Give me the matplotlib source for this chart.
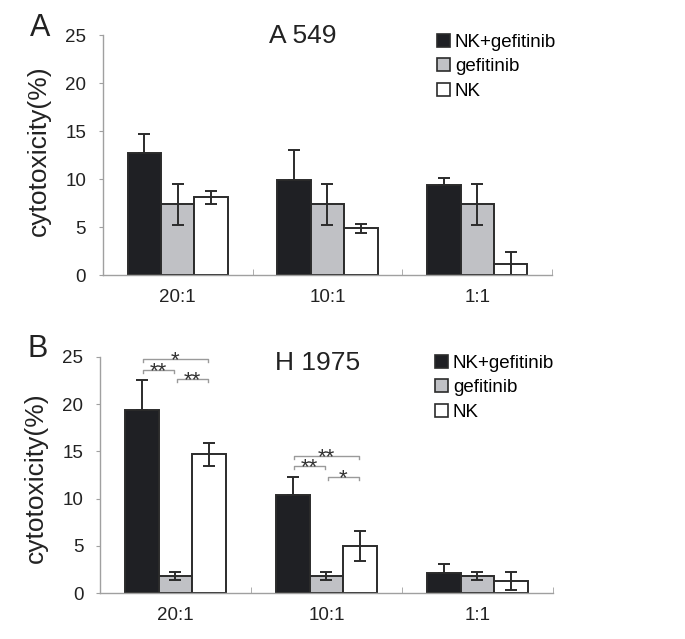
import numpy as np
import matplotlib
matplotlib.use('Agg')
import matplotlib.pyplot as plt
from matplotlib.patches import Patch

plt.rcParams['font.family'] = ['Liberation Sans', 'DejaVu Sans']

ratios = ["20:1", "10:1", "1:1"]
groups = ["NK+gefitinib", "gefitinib", "NK"]
colors = ["#1f2024", "#c0c1c5", "#ffffff"]

# A 549
a_means = [[12.7, 9.85, 9.35],
           [7.35, 7.35, 7.35],
           [8.1, 4.85, 1.2]]
a_err = [[2.0, 3.2, 0.75],
         [2.1, 2.1, 2.1],
         [0.65, 0.5, 1.15]]

# H 1975
b_means = [[19.4, 10.35, 2.15],
           [1.8, 1.8, 1.85],
           [14.7, 5.0, 1.3]]
b_err = [[3.1, 1.95, 0.9],
         [0.4, 0.4, 0.4],
         [1.2, 1.6, 0.95]]

# significance brackets: (category, bar from, bar to, height, label)
b_sig = [(0, 0, 2, 24.75, "*"),
         (0, 0, 1, 23.6, "**"),
         (0, 1, 2, 22.65, "**"),
         (1, 0, 2, 14.5, "**"),
         (1, 0, 1, 13.4, "**"),
         (1, 1, 2, 12.3, "*")]

W = 0.223
fig = plt.figure(figsize=(6.85, 6.39), dpi=100)


def drawPanel(rect, means, err, title, letter, title_xy, leg_xy, label_y):
    ax = fig.add_axes(rect)
    x = np.arange(len(ratios))
    for i in range(len(groups)):
        e = np.array(err[i])
        # lower half is hidden inside the black bars
        lo = np.zeros_like(e) if i == 0 else e
        ax.bar(x + (i - 1) * W, means[i], W, yerr=[lo, e], color=colors[i],
               edgecolor='#2b2b2b', linewidth=1.4, zorder=2,
               error_kw=dict(ecolor='#2b2b2b', elinewidth=1.4, capsize=4.5, capthick=1.4))
    ax.set_xlim(-0.5, 2.5)
    ax.set_ylim(0, 25)
    ax.set_yticks([0, 5, 10, 15, 20, 25])
    ax.set_xticks(x)
    ax.set_xticklabels(ratios)
    ax.set_xticks([0.5, 1.5, 2.5], minor=True)
    ax.tick_params(axis='x', which='major', length=0, pad=10, labelsize=13.5, labelcolor='#222222')
    ax.tick_params(axis='x', which='minor', direction='in', length=4, color='#a0a0a0')
    ax.tick_params(axis='y', length=3, color='#a0a0a0', pad=9, labelsize=13.5, labelcolor='#222222')
    for s in ['top', 'right']:
        ax.spines[s].set_visible(False)
    for s in ['left', 'bottom']:
        ax.spines[s].set_color('#a0a0a0')
        ax.spines[s].set_linewidth(1)
    ax.set_ylabel("cytotoxicity(%)", fontsize=19, color='#222222')
    ax.yaxis.set_label_coords(-0.116, label_y)
    ax.text(title_xy[0], title_xy[1], title, transform=ax.transAxes, fontsize=19,
            ha='center', va='center', color='#222222')
    fig.text(rect[0] - 0.106, rect[1] + rect[3] - 0.012, letter, fontsize=22,
             ha='left', va='bottom', color='#222222')
    handles = [Patch(facecolor=colors[i], edgecolor='#2b2b2b', linewidth=1.2) for i in range(3)]
    ax.legend(handles, groups, loc='upper left', bbox_to_anchor=leg_xy,
              bbox_transform=fig.transFigure, frameon=False, fontsize=13.5,
              handlelength=0.7, handleheight=0.7, handletextpad=0.25,
              labelspacing=0.38, borderpad=0, borderaxespad=0)
    return ax


axA = drawPanel([0.150, 0.5696, 0.656, 0.3756], a_means, a_err, "A 549", "A",
                (0.445, 0.997), (437 / 685, 1 - 34 / 639), 0.52)
axB = drawPanel([0.146, 0.0715, 0.661, 0.3703], b_means, b_err, "H 1975", "B",
                (0.48, 0.975), (435 / 685, 1 - 355 / 639), 0.49)

for cat, i, j, h, lab in b_sig:
    x0 = cat + (i - 1) * W + 0.01
    x1 = cat + (j - 1) * W - 0.01
    axB.plot([x0, x0, x1, x1], [h - 0.3, h, h, h - 0.3], color='#9a9a9a', lw=1, zorder=3)
    axB.annotate(lab, ((x0 + x1) / 2, h), xytext=(0, -5), textcoords='offset points',
                 ha='center', va='baseline', fontsize=16, color='#333333')

fig.savefig('out.png', dpi=100)
